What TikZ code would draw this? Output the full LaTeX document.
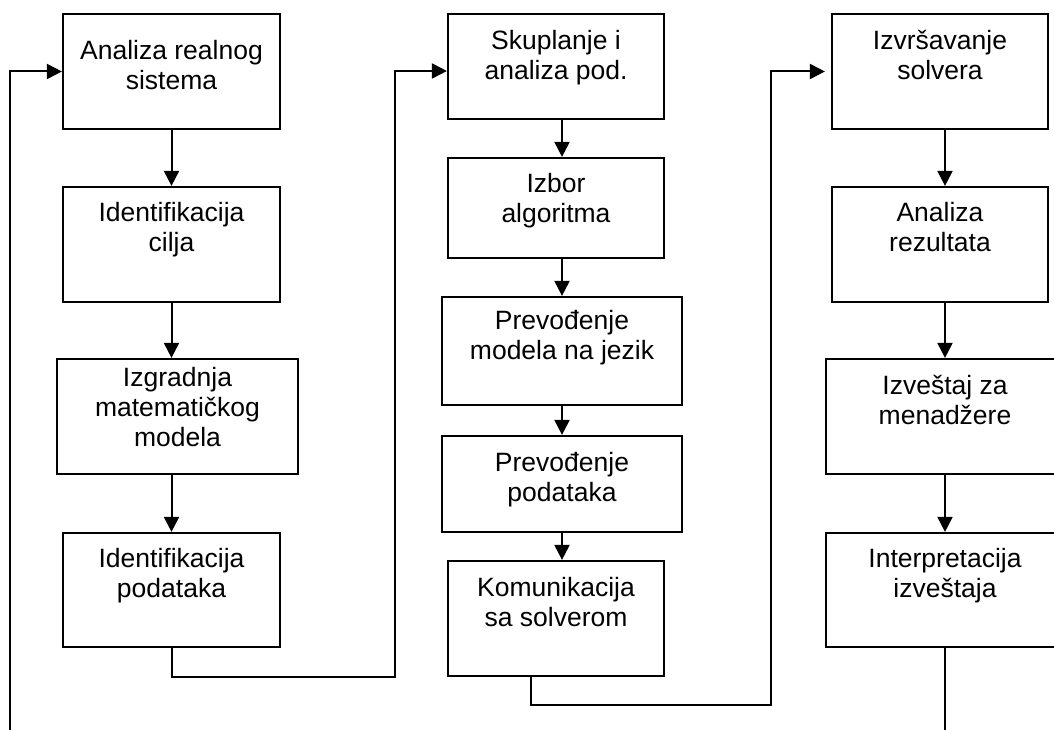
\documentclass[tikz,border=0pt]{standalone}
\usepackage{fontspec}
\setmainfont{Liberation Sans}
\usetikzlibrary{arrows.meta,calc}
\tikzset{
  box/.style={draw=black, line width=2.2pt, rectangle, inner sep=0pt, fill=white},
  txt/.style={font=\fontsize{26.5}{30}\selectfont, align=center, inner sep=0pt, anchor=north},
  conn/.style={draw=black, line width=2pt},
  arr/.style={conn, -{Triangle[length=15pt,width=15pt]}},
}
\newcommand{\flowbox}[7]{%
  \pgfmathsetmacro\fbxw{#4-#2}\pgfmathsetmacro\fbxh{#5-#3}%
  \node[box, minimum width=\fbxw pt, minimum height=\fbxh pt] (#1) at ({(#2+#4)/2},{(#3+#5)/2}) {};
  \node[txt] (#1t) at ([yshift=-#6 pt]#1.north) {#7};
}
\begin{document}
\begin{tikzpicture}[x=1pt,y=-1pt]
\useasboundingbox[fill=white] (0,0) rectangle (1054,730);
\clip (0,0) rectangle (1054,730);
% column A
\flowbox{A1}{63}{14}{280}{129}{25}{\strut Analiza realnog\\\strut sistema}
\flowbox{A2}{63}{187}{280}{302}{14}{\strut Identifikacija\\\strut cilja}
\flowbox{A3}{57}{359}{298}{474}{7}{\strut Izgradnja\\\strut matematičkog\\\strut modela}
\flowbox{A4}{63}{533}{280}{647}{14}{\strut Identifikacija\\\strut podataka}
% column B
\flowbox{B1}{448}{14}{664}{119}{15}{\strut Skuplanje i\\\strut analiza pod.}
\flowbox{B2}{448}{158}{664}{258}{14}{\strut Izbor\\\strut algoritma}
\flowbox{B3}{442}{297}{682}{405}{12}{\strut Prevođenje\\\strut modela na jezik}
\flowbox{B4}{442}{436}{682}{532}{15}{\strut Prevođenje\\\strut podataka}
\flowbox{B5}{448}{561}{664}{676}{15}{\strut Komunikacija\\\strut sa solverom}
% column C
\flowbox{C1}{832}{14}{1048}{129}{15}{\strut Izvršavanje\\\strut solvera}
\flowbox{C2}{832}{187}{1048}{302}{14}{\strut Analiza\\\strut rezultata}
\flowbox{C3}{826}{359}{1064}{474}{15}{\strut Izveštaj za\\\strut menadžere}
\flowbox{C4}{826}{533}{1064}{647}{14}{\strut Interpretacija\\\strut izveštaja}
% vertical arrows
\draw[arr] (A1.south) -- (A2.north);
\draw[arr] (A2.south) -- (A2.south |- A3.north);
\draw[arr] (A3.south -| A2.south) -- (A4.north);
\draw[arr] (B1.south -| B3.north) -- (B2.north -| B3.north);
\draw[arr] (B2.south -| B3.north) -- (B3.north);
\draw[arr] (B3.south) -- (B4.north);
\draw[arr] (B4.south) -- (B5.north -| B4.south);
\draw[arr] (C1.south -| C3.north) -- (C2.north -| C3.north);
\draw[arr] (C2.south -| C3.north) -- (C3.north);
\draw[arr] (C3.south) -- (C4.north);
% loop connectors
\coordinate (l0) at (10,731);
\coordinate (r1) at (395,677);
\coordinate (b1in) at ([yshift=-4.5pt]B1.west);
\coordinate (b5out) at ([xshift=-25pt]B5.south);
\coordinate (r2) at (771,705);
\coordinate (c1in) at ([xshift=-6pt]C1.west);
\coordinate (c4end) at ([yshift=-84pt]C4.south);
\draw[arr] (l0) |- (A1.west);
\draw[arr] (A4.south) |- (r1) |- (b1in);
\draw[arr] (b5out) |- (r2) |- (c1in);
\draw[conn] (C4.south) -- (c4end);
\end{tikzpicture}
\end{document}
